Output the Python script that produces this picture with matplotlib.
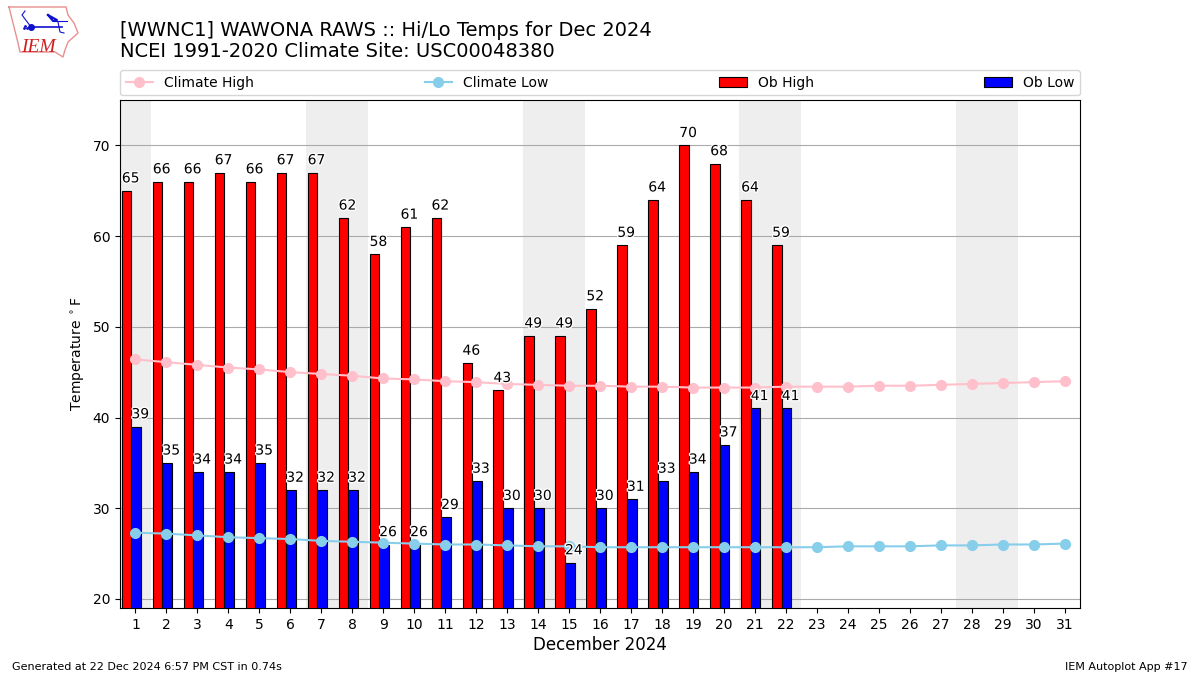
import numpy as np
import matplotlib
matplotlib.use("Agg")
import matplotlib.pyplot as plt
import matplotlib.patheffects as pe

days = list(range(1, 32))
weekend_days = [1, 7, 8, 14, 15, 21, 22, 28, 29]
ob_high = [65, 66, 66, 67, 66, 67, 67, 62, 58, 61, 62, 46, 43, 49, 49, 52, 59, 64, 70, 68, 64, 59]
ob_low = [39, 35, 34, 34, 35, 32, 32, 32, 26, 26, 29, 33, 30, 30, 24, 30, 31, 33, 34, 37, 41, 41]
climate_high = [46.4, 46.1, 45.8, 45.5, 45.3, 45.0, 44.8, 44.6, 44.3, 44.2, 44.0, 43.9, 43.7, 43.6, 43.5, 43.5,
                43.4, 43.4, 43.3, 43.3, 43.3, 43.4, 43.4, 43.4, 43.5, 43.5, 43.6, 43.7, 43.8, 43.9, 44.0]
climate_low = [27.3, 27.2, 27.0, 26.8, 26.7, 26.6, 26.4, 26.3, 26.2, 26.1, 26.0, 26.0, 25.9, 25.8, 25.8, 25.7,
               25.7, 25.7, 25.7, 25.7, 25.7, 25.7, 25.7, 25.8, 25.8, 25.8, 25.9, 25.9, 26.0, 26.0, 26.1]

WIDTH = 0.31
SHIFT = -0.13  # the pair of bars sits a bit left of the tick
halo = [pe.withStroke(linewidth=2, foreground="white")]

fig = plt.figure(figsize=(12, 6.75), dpi=100)
ax = fig.add_axes([120 / 1200, 1 - 608 / 675, 960 / 1200, 508 / 675])

# weekends get a grey band
for day in weekend_days:
    ax.axvspan(day - 0.5, day + 0.5, color="#eeeeee", lw=0, zorder=0)

ax.plot(days, climate_high, color="pink", marker="o", lw=1.5, ms=7, label="Climate High", zorder=4)
ax.plot(days, climate_low, color="skyblue", marker="o", lw=1.5, ms=7, label="Climate Low", zorder=4)

high_x = np.arange(1, len(ob_high) + 1) + SHIFT
low_x = np.arange(1, len(ob_low) + 1) + SHIFT
ax.bar(high_x - WIDTH, ob_high, WIDTH, align="edge", color="red", edgecolor="black", lw=0.8,
       label="Ob High", zorder=3)
ax.bar(low_x, ob_low, WIDTH, align="edge", color="blue", edgecolor="black", lw=0.8, label="Ob Low", zorder=3)

for x, val in zip(high_x, ob_high):
    ax.annotate(str(val), (x - WIDTH, val), xytext=(0, 6), textcoords="offset points", ha="left",
                va="baseline", fontsize=10, path_effects=halo, zorder=5)
for x, val in zip(low_x, ob_low):
    ax.annotate(str(val), (x, val), xytext=(0, 6), textcoords="offset points", ha="left",
                va="baseline", fontsize=10, path_effects=halo, zorder=5)

ax.set_xlim(0.5, 31.5)
ax.set_ylim(19, 75)
ax.set_xticks(days)
ax.set_yticks(range(20, 71, 10))
ax.tick_params(labelsize=10)
ax.grid(axis="y", color="#aaaaaa", lw=0.8)
ax.set_axisbelow(True)
ax.set_xlabel("December 2024", fontsize=12, labelpad=3)
ax.set_ylabel("Temperature $^\\circ$F", fontsize=10)

ax.legend(loc="lower left", bbox_to_anchor=(0, 1.009, 1, 0.05), ncol=4, mode="expand", borderaxespad=0,
          fontsize=10)

fig.text(119.5 / 1200, 1 - 35.5 / 675, "[WWNC1] WAWONA RAWS :: Hi/Lo Temps for Dec 2024", fontsize=14, va="baseline")
fig.text(119.5 / 1200, 1 - 57 / 675, "NCEI 1991-2020 Climate Site: USC00048380", fontsize=14, va="baseline")
fig.text(12 / 1200, 1 - 670 / 675, "Generated at 22 Dec 2024 6:57 PM CST in 0.74s", fontsize=8, va="baseline")
fig.text(1188 / 1200, 1 - 670 / 675, "IEM Autoplot App #17", fontsize=8, ha="right", va="baseline")

# rough IEM logo, in pixel coordinates of the figure corner
logo = fig.add_axes([0, 1 - 60 / 675, 90 / 1200, 60 / 675])
logo.set_xlim(0, 90)
logo.set_ylim(60, 0)
logo.axis("off")
outline_x = [9, 66, 68, 74, 78, 68, 65, 63, 55, 20, 18, 13, 9]
outline_y = [7, 7, 15, 23, 33, 42, 50, 57, 52, 52, 43, 23, 7]
logo.plot(outline_x, outline_y, color="#e89090", lw=1)
logo.plot([31, 62], [27, 27], color="#1010d0", lw=1.2)
logo.plot([31], [27], "o", color="#1010d0", ms=4)
logo.plot([48, 57, 53, 48], [15, 20, 21, 15], color="#1010d0", lw=1.5)
logo.plot([53, 67], [21, 21], color="#1010d0", lw=0.8)
logo.plot([58, 60, 64], [22, 32, 33], color="#1010d0", lw=0.8)
logo.plot([31, 22, 25], [27, 15, 11], color="#1010d0", lw=0.8)
logo.plot([24, 25, 27], [28, 26, 28], ".", color="#1010d0", ms=2)
logo.text(21, 52, "IEM", color="#d02020", fontsize=14, family="Liberation Serif", style="italic", va="baseline")

fig.savefig("out.png", dpi=100)
